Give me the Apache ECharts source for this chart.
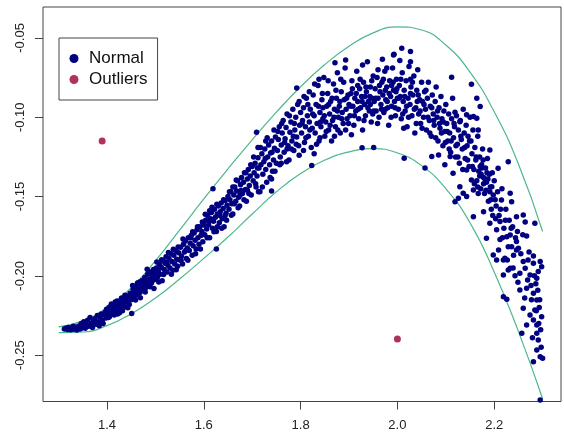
<!DOCTYPE html>
<html>
<head>
<meta charset="utf-8">
<script src="https://cdn.jsdelivr.net/npm/echarts@6/dist/echarts.min.js"></script>
<style>
html,body{margin:0;padding:0;background:#fff;}
#chart{width:564px;height:440px;}
</style>
</head>
<body>
<div id="chart"></div>
<script>
// Tick labels
const xTicks = [1.4, 1.6, 1.8, 2.0, 2.2];
const yTicks = [-0.25, -0.20, -0.15, -0.10, -0.05];

// Envelope curves
const curveX = [1.30,1.35,1.40,1.45,1.50,1.55,1.60,1.65,1.70,1.75,1.80,1.85,1.90,1.95,2.00,2.05,2.10,2.15,2.20,2.25,2.30];
const upperCurve = [-0.2322,-0.2284,-0.2200,-0.2075,-0.1905,-0.1712,-0.1515,-0.1325,-0.1142,-0.0968,-0.0808,-0.0668,-0.0553,-0.0468,-0.0430,-0.0450,-0.0545,-0.0715,-0.0965,-0.1295,-0.1720];
const lowerCurve = [-0.2358,-0.2354,-0.2314,-0.2240,-0.2140,-0.2020,-0.1890,-0.1755,-0.1610,-0.1470,-0.1355,-0.1270,-0.1218,-0.1198,-0.1225,-0.1305,-0.1450,-0.1665,-0.1975,-0.2350,-0.2775];

// Outliers
const outlierPoints = [[1.390,-0.1150],[2.000,-0.2398]];

// Normal points
const normalPoints = [
[1.312,-0.2335],[1.315,-0.2330],[1.318,-0.2338],[1.320,-0.2325],[1.322,-0.2332],[1.325,-0.2340],[1.327,-0.2328],[1.330,-0.2318],[1.331,-0.2336],[1.334,-0.2330],
[1.336,-0.2322],[1.338,-0.2341],[1.340,-0.2327],[1.343,-0.2315],[1.345,-0.2335],[1.347,-0.2300],[1.350,-0.2322],[1.352,-0.2290],[1.355,-0.2330],[1.357,-0.2310],
[1.360,-0.2280],[1.362,-0.2318],[1.365,-0.2262],[1.367,-0.2300],[1.370,-0.2325],[1.372,-0.2285],[1.375,-0.2270],[1.377,-0.2305],[1.380,-0.2250],[1.382,-0.2290],
[1.384,-0.2315],[1.386,-0.2260],[1.388,-0.2240],[1.390,-0.2280],[1.392,-0.2300],[1.394,-0.2245],[1.396,-0.2230],[1.398,-0.2265],[1.399,-0.2210],[1.401,-0.2250],
[1.402,-0.2235],[1.404,-0.2200],[1.405,-0.2258],[1.407,-0.2220],[1.408,-0.2190],[1.410,-0.2240],[1.411,-0.2210],[1.413,-0.2185],[1.414,-0.2228],[1.416,-0.2200],
[1.417,-0.2165],[1.419,-0.2215],[1.420,-0.2190],[1.422,-0.2240],[1.423,-0.2175],[1.425,-0.2205],[1.427,-0.2160],[1.428,-0.2190],[1.430,-0.2140],[1.432,-0.2220],
[1.434,-0.2170],[1.436,-0.2150],[1.438,-0.2195],[1.440,-0.2125],[1.442,-0.2165],[1.444,-0.2140],[1.446,-0.2180],[1.448,-0.2110],[1.450,-0.2150],[1.451,-0.2238],
[1.452,-0.2120],[1.454,-0.2085],[1.456,-0.2140],[1.458,-0.2100],[1.460,-0.2065],[1.462,-0.2120],[1.464,-0.2090],[1.466,-0.2040],[1.468,-0.2105],[1.470,-0.2070],
[1.472,-0.2030],[1.474,-0.2090],[1.476,-0.2050],[1.478,-0.2010],[1.480,-0.2075],[1.482,-0.2035],[1.484,-0.1990],[1.486,-0.2060],[1.488,-0.2020],[1.490,-0.1975],
[1.492,-0.2045],[1.494,-0.2000],[1.496,-0.1960],[1.498,-0.2025],[1.500,-0.1985],
[1.502,-0.1950],[1.504,-0.2010],[1.506,-0.1970],[1.508,-0.1925],[1.510,-0.1990],[1.512,-0.1945],[1.514,-0.2030],[1.516,-0.1905],[1.518,-0.1960],[1.520,-0.1920],
[1.522,-0.1880],[1.524,-0.1975],[1.526,-0.1935],[1.528,-0.1890],[1.530,-0.1950],[1.532,-0.1860],[1.534,-0.1910],[1.536,-0.1965],[1.538,-0.1870],[1.540,-0.1925],
[1.542,-0.1840],[1.544,-0.1895],[1.546,-0.1940],[1.548,-0.1855],[1.550,-0.1900],
[1.552,-0.1820],[1.554,-0.1875],[1.556,-0.1925],[1.558,-0.1800],[1.560,-0.1850],[1.562,-0.1780],[1.564,-0.1890],[1.566,-0.1825],[1.568,-0.1760],[1.570,-0.1840],
[1.572,-0.1795],[1.574,-0.1745],[1.576,-0.1870],[1.578,-0.1810],[1.580,-0.1730],[1.582,-0.1775],[1.584,-0.1830],[1.586,-0.1710],[1.588,-0.1760],[1.590,-0.1800],
[1.592,-0.1690],[1.594,-0.1745],[1.596,-0.1720],[1.598,-0.1785],[1.600,-0.1680],[1.626,-0.1830],[1.619,-0.1450],
[1.602,-0.1740],[1.604,-0.1650],[1.606,-0.1705],[1.608,-0.1620],[1.610,-0.1680],[1.612,-0.1760],[1.614,-0.1640],[1.616,-0.1600],[1.618,-0.1700],[1.620,-0.1655],
[1.622,-0.1580],[1.624,-0.1630],[1.626,-0.1720],[1.628,-0.1610],[1.630,-0.1560],[1.632,-0.1665],[1.634,-0.1595],[1.636,-0.1540],[1.638,-0.1640],[1.640,-0.1575],
[1.642,-0.1690],[1.644,-0.1525],[1.646,-0.1605],[1.648,-0.1555],[1.650,-0.1500],[1.612,-0.1590],[1.628,-0.1690],[1.644,-0.1620],
[1.652,-0.1580],[1.654,-0.1520],[1.656,-0.1470],[1.658,-0.1545],[1.660,-0.1610],[1.662,-0.1490],[1.664,-0.1440],[1.666,-0.1530],[1.668,-0.1465],[1.670,-0.1400],
[1.672,-0.1505],[1.674,-0.1560],[1.676,-0.1425],[1.678,-0.1380],[1.680,-0.1480],[1.682,-0.1410],[1.684,-0.1350],[1.686,-0.1455],[1.688,-0.1530],[1.690,-0.1390],
[1.692,-0.1330],[1.694,-0.1430],[1.696,-0.1370],[1.698,-0.1490],[1.700,-0.1310],[1.660,-0.1440],[1.675,-0.1490],[1.690,-0.1460],
[1.702,-0.1400],[1.704,-0.1350],[1.706,-0.1290],[1.708,-0.1440],[1.710,-0.1370],[1.712,-0.1255],[1.714,-0.1320],[1.716,-0.1470],[1.718,-0.1300],[1.720,-0.1230],
[1.722,-0.1360],[1.724,-0.1280],[1.726,-0.1200],[1.728,-0.1330],[1.730,-0.1410],[1.732,-0.1250],[1.734,-0.1175],[1.736,-0.1300],[1.738,-0.1225],[1.740,-0.1150],
[1.742,-0.1340],[1.744,-0.1270],[1.746,-0.1195],[1.748,-0.1125],[1.750,-0.1290],[1.712,-0.1190],[1.728,-0.1150],[1.740,-0.1390],[1.745,-0.1080],[1.709,-0.1095],
[1.713,-0.1469],[1.740,-0.1465],
[1.752,-0.1210],[1.754,-0.1140],[1.756,-0.1060],[1.758,-0.1250],[1.760,-0.1175],[1.762,-0.1100],[1.764,-0.1020],[1.766,-0.1220],[1.768,-0.1135],[1.770,-0.1065],
[1.772,-0.0980],[1.774,-0.1180],[1.776,-0.1270],[1.778,-0.1095],[1.780,-0.1030],[1.782,-0.1150],[1.784,-0.0950],[1.786,-0.1210],[1.788,-0.1080],[1.790,-0.1000],
[1.792,-0.1125],[1.794,-0.0920],[1.796,-0.1180],[1.798,-0.1050],[1.800,-0.0970],[1.760,-0.1290],[1.772,-0.1200],[1.785,-0.1120],[1.797,-0.1240],[1.792,-0.0815],
[1.802,-0.1100],[1.804,-0.1020],[1.806,-0.0940],[1.808,-0.1160],[1.810,-0.1060],[1.812,-0.0880],[1.814,-0.0990],[1.816,-0.1120],[1.818,-0.1030],[1.820,-0.0950],
[1.822,-0.1190],[1.824,-0.1070],[1.826,-0.0860],[1.828,-0.0990],[1.830,-0.1100],[1.832,-0.0920],[1.834,-0.1040],[1.836,-0.0800],[1.838,-0.1150],[1.840,-0.0970],
[1.842,-0.1060],[1.844,-0.0890],[1.846,-0.1010],[1.848,-0.0750],[1.850,-0.1120],[1.806,-0.1210],[1.818,-0.0840],[1.828,-0.1230],[1.840,-0.1130],[1.846,-0.0940],
[1.823,-0.1305],[1.838,-0.0760],
[1.852,-0.1030],[1.854,-0.0930],[1.856,-0.0850],[1.858,-0.1080],[1.860,-0.0980],[1.862,-0.0900],[1.864,-0.1150],[1.866,-0.1020],[1.868,-0.0790],[1.870,-0.0950],
[1.872,-0.1060],[1.874,-0.0880],[1.876,-0.0720],[1.878,-0.1000],[1.880,-0.0930],[1.882,-0.1100],[1.884,-0.0840],[1.886,-0.0970],[1.888,-0.1040],[1.890,-0.0890],
[1.892,-0.0690],[1.894,-0.0950],[1.896,-0.1010],[1.898,-0.0860],[1.900,-0.0920],[1.858,-0.0920],[1.870,-0.1120],[1.883,-0.0760],[1.893,-0.1080],[1.876,-0.0960],
[1.871,-0.0656],[1.893,-0.0639],
[1.902,-0.0990],[1.904,-0.0850],[1.906,-0.0770],[1.908,-0.0930],[1.910,-0.1050],[1.912,-0.0880],[1.914,-0.0960],[1.916,-0.0710],[1.918,-0.0900],[1.920,-0.1010],
[1.922,-0.0820],[1.924,-0.0940],[1.926,-0.0870],[1.928,-0.1080],[1.930,-0.0780],[1.932,-0.0920],[1.934,-0.0990],[1.936,-0.0840],[1.938,-0.0650],[1.940,-0.0900],
[1.942,-0.0960],[1.944,-0.0810],[1.946,-0.1030],[1.948,-0.0880],[1.950,-0.0740],[1.905,-0.1110],[1.918,-0.0800],[1.933,-0.0870],[1.944,-0.0920],[1.949,-0.0980],
[1.927,-0.1192],[1.951,-0.1190],[1.928,-0.0670],
[1.952,-0.0900],[1.954,-0.0820],[1.956,-0.0960],[1.958,-0.0750],[1.960,-0.0880],[1.962,-0.1000],[1.964,-0.0840],[1.966,-0.0920],[1.968,-0.0780],[1.970,-0.0860],
[1.972,-0.0970],[1.974,-0.0710],[1.976,-0.0890],[1.978,-0.0810],[1.980,-0.0940],[1.982,-0.1050],[1.984,-0.0770],[1.986,-0.0870],[1.988,-0.0930],[1.990,-0.0690],
[1.992,-0.0830],[1.994,-0.0900],[1.996,-0.0990],[1.998,-0.0760],[2.000,-0.0880],[1.960,-0.0700],[1.975,-0.0950],[1.988,-0.0800],[1.997,-0.0840],[1.969,-0.0634],
[1.993,-0.0603],[1.978,-0.0690],[1.992,-0.0607],
[2.002,-0.0950],[2.004,-0.0800],[2.006,-0.0870],[2.008,-0.1010],[2.010,-0.0720],[2.012,-0.0900],[2.014,-0.0830],[2.016,-0.0960],[2.018,-0.0770],[2.020,-0.1060],
[2.022,-0.0880],[2.024,-0.0680],[2.026,-0.0920],[2.028,-0.0810],[2.030,-0.0990],[2.032,-0.0860],[2.034,-0.0740],[2.036,-0.1100],[2.038,-0.0940],[2.040,-0.0830],
[2.042,-0.0700],[2.044,-0.0980],[2.046,-0.0890],[2.048,-0.1040],[2.050,-0.0780],[2.013,-0.1070],[2.027,-0.0760],[2.041,-0.0900],[2.009,-0.0565],[2.027,-0.0586],
[2.005,-0.0643],[2.027,-0.0650],[2.014,-0.1259],
[2.052,-0.0900],[2.054,-0.1000],[2.056,-0.0840],[2.058,-0.0950],[2.060,-0.1080],[2.062,-0.0880],[2.064,-0.0780],[2.066,-0.1020],[2.068,-0.0930],[2.070,-0.1120],
[2.072,-0.0860],[2.074,-0.0980],[2.076,-0.1050],[2.078,-0.0900],[2.080,-0.0810],[2.082,-0.1000],[2.084,-0.1150],[2.086,-0.0940],[2.088,-0.1070],[2.090,-0.0870],
[2.092,-0.1010],[2.094,-0.1180],[2.096,-0.0960],[2.098,-0.1090],[2.100,-0.0920],[2.071,-0.1248],[2.098,-0.1300],[2.085,-0.1238],[2.057,-0.1320],
[2.102,-0.1040],[2.104,-0.1150],[2.106,-0.0980],[2.108,-0.1100],[2.110,-0.1220],[2.112,-0.1010],[2.114,-0.0880],[2.116,-0.1130],[2.118,-0.1060],[2.120,-0.1250],
[2.122,-0.0990],[2.124,-0.1170],[2.126,-0.1080],[2.128,-0.1290],[2.130,-0.1020],[2.132,-0.1140],[2.134,-0.1200],[2.136,-0.0950],[2.138,-0.1100],[2.140,-0.1260],
[2.142,-0.1050],[2.144,-0.1180],[2.146,-0.1120],[2.148,-0.1310],[2.150,-0.1000],[2.112,-0.0748],[2.143,-0.0985],[2.119,-0.0968],[2.129,-0.1028],[2.119,-0.1532],
[2.115,-0.1353],[2.143,-0.1332],[2.136,-0.1479],[2.143,-0.1500],[2.126,-0.1511],[2.129,-0.1438],[2.109,-0.1248],
[2.152,-0.1150],[2.154,-0.1230],[2.156,-0.1080],[2.158,-0.1330],[2.160,-0.1190],[2.162,-0.1270],[2.164,-0.1400],[2.166,-0.1120],[2.168,-0.1340],[2.170,-0.1250],
[2.172,-0.1450],[2.174,-0.1300],[2.176,-0.1200],[2.178,-0.1380],[2.180,-0.1480],[2.182,-0.1320],[2.184,-0.1410],[2.186,-0.1260],[2.188,-0.1530],[2.190,-0.1360],
[2.192,-0.1440],[2.194,-0.1580],[2.196,-0.1350],[2.198,-0.1490],[2.200,-0.1400],[2.170,-0.1370],[2.178,-0.1420],[2.185,-0.1350],[2.191,-0.1470],[2.166,-0.1440],
[2.175,-0.1320],[2.181,-0.1390],[2.157,-0.1627],[2.157,-0.1458],[2.178,-0.1595],[2.184,-0.1763],[2.191,-0.1668],[2.153,-0.1395],[2.164,-0.0880],[2.171,-0.0933],
[2.164,-0.1006],[2.167,-0.1080],[2.191,-0.1206],[2.153,-0.0792],[2.157,-0.0996],[2.171,-0.1310],[2.195,-0.1438],
[2.202,-0.1520],[2.204,-0.1560],[2.205,-0.1710],[2.208,-0.1322],[2.209,-0.1837],[2.210,-0.1620],[2.212,-0.1658],[2.215,-0.1521],[2.216,-0.1450],[2.219,-0.1900],
[2.219,-0.1994],[2.220,-0.1700],[2.222,-0.1889],[2.224,-0.1580],[2.226,-0.1753],[2.226,-0.2148],[2.229,-0.1280],[2.229,-0.1816],[2.229,-0.1963],[2.231,-0.1650],
[2.233,-0.1479],[2.233,-0.1742],[2.233,-0.1952],[2.236,-0.1532],[2.236,-0.1816],[2.238,-0.1690],[2.240,-0.1870],[2.243,-0.2000],[2.246,-0.1627],[2.246,-0.1784],
[2.246,-0.1837],[2.248,-0.1720],[2.250,-0.1826],[2.198,-0.1868],[2.205,-0.1900],[2.219,-0.2131],[2.212,-0.1770],
[2.253,-0.1984],[2.253,-0.2089],[2.257,-0.2362],[2.260,-0.1616],[2.260,-0.1910],[2.260,-0.2204],[2.264,-0.1952],[2.264,-0.1660],[2.267,-0.1748],[2.267,-0.2078],
[2.267,-0.2310],[2.269,-0.2026],[2.272,-0.1850],[2.274,-0.1994],[2.274,-0.2247],[2.277,-0.2150],[2.281,-0.1875],[2.281,-0.1921],[2.281,-0.2110],[2.281,-0.2278],
[2.281,-0.2541],[2.284,-0.1668],[2.284,-0.2215],[2.286,-0.2050],[2.288,-0.2015],[2.288,-0.2152],[2.288,-0.2310],[2.288,-0.2362],[2.288,-0.2467],[2.291,-0.1973],
[2.291,-0.2404],[2.293,-0.2200],[2.295,-0.1910],[2.295,-0.2510],[2.295,-0.2782],[2.298,-0.1942],[2.298,-0.2257],[2.300,-0.2520],[2.296,-0.2340],[2.290,-0.2090],
// additional, irregularly placed points
[1.403,-0.2262],[1.409,-0.2178],[1.415,-0.2246],[1.421,-0.2158],[1.426,-0.2232],[1.431,-0.2188],[1.437,-0.2122],[1.443,-0.2201],[1.447,-0.2148],[1.453,-0.2060],
[1.459,-0.2152],[1.463,-0.2045],[1.469,-0.2138],[1.473,-0.2062],[1.479,-0.2102],[1.483,-0.1958],[1.489,-0.2068],[1.493,-0.1985],[1.497,-0.2080],
[1.503,-0.1912],[1.507,-0.2038],[1.513,-0.1898],[1.517,-0.1992],[1.523,-0.1915],[1.527,-0.1852],[1.533,-0.1990],[1.537,-0.1832],[1.543,-0.1962],[1.547,-0.1818],
[1.553,-0.1902],[1.557,-0.1768],[1.563,-0.1838],[1.567,-0.1902],[1.573,-0.1760],[1.577,-0.1722],[1.583,-0.1860],[1.587,-0.1690],[1.593,-0.1830],[1.597,-0.1660],
[1.603,-0.1612],[1.607,-0.1760],[1.611,-0.1655],[1.617,-0.1568],[1.621,-0.1722],[1.627,-0.1548],[1.633,-0.1620],[1.637,-0.1700],[1.641,-0.1520],[1.647,-0.1650],
[1.653,-0.1470],[1.657,-0.1618],[1.663,-0.1545],[1.667,-0.1395],[1.671,-0.1570],[1.677,-0.1462],[1.683,-0.1520],[1.687,-0.1350],[1.693,-0.1480],[1.697,-0.1300],
[1.703,-0.1250],[1.707,-0.1420],[1.711,-0.1320],[1.717,-0.1190],[1.721,-0.1440],[1.727,-0.1260],[1.731,-0.1130],[1.737,-0.1380],[1.741,-0.1220],[1.747,-0.1340],
[1.753,-0.1090],[1.757,-0.1300],[1.761,-0.1040],[1.767,-0.1160],[1.771,-0.1280],[1.777,-0.0990],[1.781,-0.1200],[1.787,-0.1040],[1.791,-0.1170],[1.797,-0.0900],
[1.803,-0.1040],[1.807,-0.0870],[1.811,-0.1130],[1.815,-0.0920],[1.819,-0.1080],[1.825,-0.0980],[1.829,-0.0790],[1.833,-0.1170],[1.837,-0.0930],[1.841,-0.1030],
[1.845,-0.0850],[1.849,-0.0990],[1.853,-0.1090],[1.857,-0.0770],[1.861,-0.1050],[1.865,-0.0880],[1.869,-0.1000],[1.873,-0.0830],[1.877,-0.1080],[1.881,-0.0900],
[1.885,-0.1010],[1.889,-0.0780],[1.895,-0.0880],[1.899,-0.1040],
[1.903,-0.0930],[1.907,-0.0820],[1.911,-0.0990],[1.915,-0.0850],[1.919,-0.0950],[1.923,-0.0760],[1.927,-0.0900],[1.931,-0.1020],[1.935,-0.0810],[1.939,-0.0940],
[1.943,-0.0870],[1.947,-0.0770],[1.951,-0.0960],[1.955,-0.0880],[1.959,-0.1040],[1.963,-0.0800],[1.967,-0.0950],[1.971,-0.0760],[1.975,-0.0830],[1.979,-0.0900],
[1.983,-0.0850],[1.987,-0.1000],[1.991,-0.0780],[1.995,-0.0940],[1.999,-0.0820],
[2.003,-0.0880],[2.007,-0.0760],[2.011,-0.0980],[2.015,-0.0870],[2.019,-0.0930],[2.023,-0.1000],[2.027,-0.0850],[2.031,-0.0780],[2.035,-0.0950],[2.039,-0.1040],
[2.043,-0.0860],[2.047,-0.0960],[2.051,-0.1070],[2.055,-0.0920],[2.059,-0.0830],[2.063,-0.1000],[2.067,-0.1100],[2.071,-0.0940],[2.075,-0.1020],[2.079,-0.1130],
[2.083,-0.0960],[2.087,-0.1040],[2.091,-0.1100],[2.095,-0.1030],[2.099,-0.1160],
[2.103,-0.1090],[2.107,-0.1200],[2.111,-0.1150],[2.117,-0.1040],[2.121,-0.1180],[2.125,-0.1250],[2.131,-0.1120],[2.135,-0.1330],[2.139,-0.1190],[2.145,-0.1270],
[2.149,-0.1150],[2.155,-0.1310],[2.159,-0.1420],[2.163,-0.1250],[2.167,-0.1480],[2.173,-0.1360],[2.177,-0.1270],[2.183,-0.1460],[2.187,-0.1390],[2.193,-0.1520],
[2.197,-0.1620],
[2.203,-0.1640],[2.207,-0.1470],[2.213,-0.1580],[2.217,-0.1760],[2.223,-0.1650],[2.227,-0.1900],[2.235,-0.1700],[2.239,-0.1950],[2.244,-0.1760],[2.249,-0.2040],
[2.255,-0.1860],[2.259,-0.1740],[2.263,-0.2140],[2.270,-0.1900],[2.276,-0.2060],[2.279,-0.2390],[2.283,-0.2000],[2.287,-0.2220],[2.292,-0.2300],[2.297,-0.2450],
[2.294,-0.2150]
];

const NAVY = '#000080';
const MAROON = '#B03060';
const GREEN = '#4DB88C';
const AXIS = '#444';
const FONT = "'Liberation Sans', Arial, Helvetica, sans-serif";

const chart = echarts.init(document.getElementById('chart'), null, {renderer: 'canvas'});
chart.setOption({
  animation: false,
  backgroundColor: '#fff',
  textStyle: {fontFamily: FONT},
  grid: {
    left: 43, right: 3, top: 7, bottom: 38.5,
    show: true, borderColor: AXIS, borderWidth: 1, backgroundColor: 'transparent',
    containLabel: false, outerBoundsMode: 'none'
  },
  legend: {
    show: true,
    orient: 'vertical',
    left: 59, top: 38,
    padding: [12, 10, 12, 10.5],
    borderColor: AXIS, borderWidth: 1, borderRadius: 0,
    backgroundColor: '#fff',
    itemWidth: 20, itemHeight: 9, itemGap: 4,
    icon: 'circle',
    selectedMode: false,
    textStyle: {fontSize: 17, color: '#111', fontFamily: FONT, lineHeight: 17},
    data: ['Normal', 'Outliers']
  },
  xAxis: {
    type: 'value',
    min: 1.2678, max: 2.338,
    axisLine: {show: false},
    splitLine: {show: false},
    axisTick: {show: true, customValues: xTicks, length: 8, inside: false, lineStyle: {color: AXIS, width: 1}},
    axisLabel: {customValues: xTicks, margin: 17, fontSize: 13, color: '#222', fontFamily: FONT,
      formatter: v => Number(v).toFixed(1)}
  },
  yAxis: {
    type: 'value',
    min: -0.2792, max: -0.0305,
    axisLine: {show: false},
    splitLine: {show: false},
    axisTick: {show: true, customValues: yTicks, length: 8, inside: false, lineStyle: {color: AXIS, width: 1}},
    axisLabel: {customValues: yTicks, margin: 16, rotate: 90, fontSize: 13, color: '#222', fontFamily: FONT,
      formatter: v => Number(v).toFixed(2)}
  },
  series: [
    {
      name: 'upper', type: 'line', smooth: true, showSymbol: false, silent: true, z: 1,
      lineStyle: {color: GREEN, width: 1.2},
      data: curveX.map((x, i) => [x, upperCurve[i]])
    },
    {
      name: 'lower', type: 'line', smooth: true, showSymbol: false, silent: true, z: 1,
      lineStyle: {color: GREEN, width: 1.2},
      data: curveX.map((x, i) => [x, lowerCurve[i]])
    },
    {
      name: 'Normal', type: 'scatter', symbol: 'circle', symbolSize: 5.5, z: 3,
      itemStyle: {color: NAVY, opacity: 1},
      data: normalPoints
    },
    {
      name: 'Outliers', type: 'scatter', symbol: 'circle', symbolSize: 7, z: 3,
      itemStyle: {color: MAROON, opacity: 1},
      data: outlierPoints
    }
  ]
});
</script>
</body>
</html>
